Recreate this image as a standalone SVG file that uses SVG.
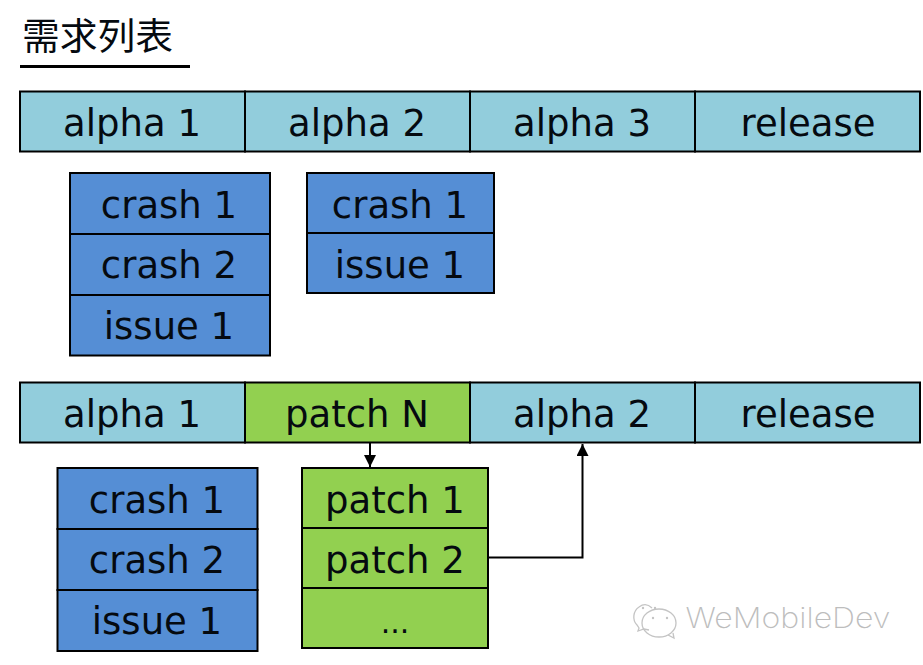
<svg xmlns="http://www.w3.org/2000/svg" width="923" height="665" viewBox="0 0 923 665">
<defs>
<style>
text{font-family:"DejaVu Sans","Noto Sans CJK SC",sans-serif;fill:#050a10;text-anchor:middle}
.t{font-size:37px}
.b rect{stroke:#000;stroke-width:2}
.s{fill:#92cddc}.c{fill:#558ed5}.g{fill:#92d050}
.conn{fill:none;stroke:#000;stroke-width:2}
.wm{fill:none;stroke:#c4c4c4;stroke-width:1.3}
</style>
<marker id="ah" markerUnits="userSpaceOnUse" markerWidth="14" markerHeight="14" refX="12" refY="6" orient="auto"><path d="M0 0L12 6L0 12Z" fill="#000"/></marker>
</defs>
<rect width="923" height="665" fill="#fff"/>
<g id="title"><text x="22" y="50" style="font-size:37px;font-family:'Noto Sans CJK SC',sans-serif;text-anchor:start;font-weight:400" textLength="151" lengthAdjust="spacingAndGlyphs">需求列表</text><path d="M20 66.500H190" stroke="#000" stroke-width="3"/></g>

<g id="row1-alpha1" class="b"><rect class="s" x="20" y="91.500" width="225" height="60"/><text class="t" x="132" y="136">alpha 1</text></g>
<g id="row1-alpha2" class="b"><rect class="s" x="245" y="91.500" width="225" height="60"/><text class="t" x="357" y="136">alpha 2</text></g>
<g id="row1-alpha3" class="b"><rect class="s" x="470" y="91.500" width="225" height="60"/><text class="t" x="582" y="136">alpha 3</text></g>
<g id="row1-release" class="b"><rect class="s" x="695" y="91.500" width="225" height="60"/><text class="t" x="808" y="136">release</text></g>

<g id="a1-crash1" class="b"><rect class="c" x="70" y="173" width="200" height="61"/><text class="t" x="169" y="218">crash 1</text></g>
<g id="a1-crash2" class="b"><rect class="c" x="70" y="234" width="200" height="61"/><text class="t" x="169" y="278">crash 2</text></g>
<g id="a1-issue1" class="b"><rect class="c" x="70" y="295" width="200" height="60.500"/><text class="t" x="169" y="339">issue 1</text></g>

<g id="a2-crash1" class="b"><rect class="c" x="307" y="173" width="187" height="60"/><text class="t" x="400" y="218">crash 1</text></g>
<g id="a2-issue1" class="b"><rect class="c" x="307" y="233" width="187" height="60"/><text class="t" x="400" y="278">issue 1</text></g>

<g id="row2-alpha1" class="b"><rect class="s" x="20" y="382.500" width="225" height="60"/><text class="t" x="132" y="427">alpha 1</text></g>
<g id="row2-patchN" class="b"><rect class="g" x="245" y="382.500" width="225" height="60"/><text class="t" x="357" y="427">patch N</text></g>
<g id="row2-alpha2" class="b"><rect class="s" x="470" y="382.500" width="225" height="60"/><text class="t" x="582" y="427">alpha 2</text></g>
<g id="row2-release" class="b"><rect class="s" x="695" y="382.500" width="225" height="60"/><text class="t" x="808" y="427">release</text></g>

<g id="b-crash1" class="b"><rect class="c" x="57.500" y="468" width="200" height="61"/><text class="t" x="157" y="513">crash 1</text></g>
<g id="b-crash2" class="b"><rect class="c" x="57.500" y="529" width="200" height="61"/><text class="t" x="157" y="573">crash 2</text></g>
<g id="b-issue1" class="b"><rect class="c" x="57.500" y="590" width="200" height="61"/><text class="t" x="157" y="634">issue 1</text></g>

<g id="patch1" class="b"><rect class="g" x="302" y="468" width="186" height="60"/><text class="t" x="395" y="513">patch 1</text></g>
<g id="patch2" class="b"><rect class="g" x="302" y="528" width="186" height="60"/><text class="t" x="395" y="573">patch 2</text></g>
<g id="patch-more" class="b"><rect class="g" x="302" y="588" width="186" height="60"/><text x="395" y="633" style="font-size:30px">...</text></g>

<g id="connectors">
<path class="conn" d="M370 443V467" marker-end="url(#ah)"/>
<path class="conn" d="M489 557.500H582.500V444" marker-end="url(#ah)"/>
</g>

<g id="watermark">
<path class="wm" d="M652 608c-4-4-9-4-13-1c-6 4-7 13-2 18l2 3l-1 3l6-2l5 1"/>
<ellipse class="wm" cx="659" cy="623" rx="17" ry="14"/>
<path class="wm" d="M668 635l6 3l-1-5"/>
<circle cx="643" cy="608" r="1.200" fill="#c4c4c4"/><circle cx="655" cy="608" r="1.200" fill="#c4c4c4"/><circle cx="653" cy="618" r="1.200" fill="#c4c4c4"/><circle cx="667" cy="618" r="1.200" fill="#c4c4c4"/>
<text x="788" y="628" style="font-size:28px;fill:#bdbdbd;font-family:Inter,sans-serif;font-weight:200" textLength="205" lengthAdjust="spacingAndGlyphs">WeMobileDev</text>
</g>
</svg>
